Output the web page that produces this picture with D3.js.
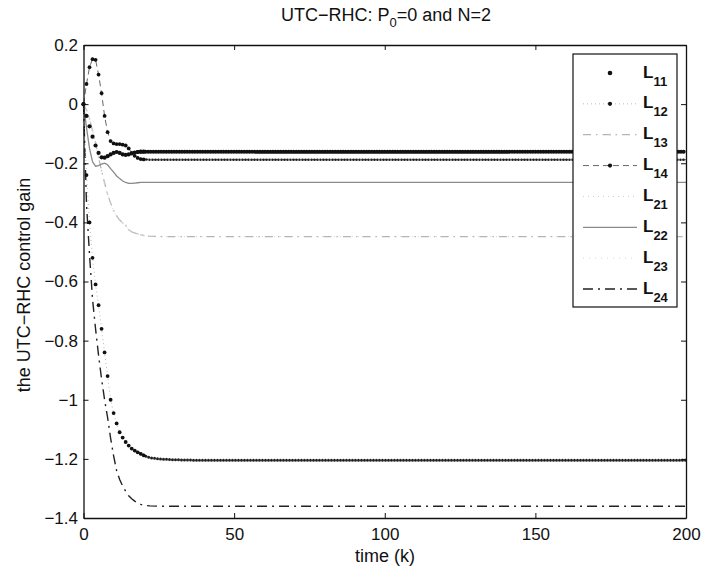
<!DOCTYPE html>
<html><head><meta charset="utf-8">
<script src="https://cdn.jsdelivr.net/npm/d3@7"></script>
<style>body{margin:0;background:#fff}svg{display:block;font-family:"Liberation Sans",Arial,Helvetica,sans-serif}</style>
</head><body><svg id="c" width="704" height="571"></svg>
<script>
// ---- data ----
const timeK = [0,1,2,3,4,5,6,7,8,9,10,11,12,13,14,15,16,17,18,19,20,22,25,30,40,60,100,150,200];
const L11 = [0,-0.04,-0.075,-0.11,-0.14,-0.165,-0.18,-0.181,-0.176,-0.17,-0.165,-0.162,-0.165,-0.17,-0.172,-0.17,-0.167,-0.164,-0.162,-0.161,-0.161,-0.161,-0.161,-0.161,-0.161,-0.161,-0.161,-0.161,-0.161];
const L12 = [0,-0.24,-0.40,-0.52,-0.61,-0.68,-0.76,-0.84,-0.92,-1.0,-1.045,-1.08,-1.11,-1.128,-1.143,-1.155,-1.165,-1.172,-1.178,-1.183,-1.188,-1.196,-1.2,-1.203,-1.205,-1.205,-1.205,-1.205,-1.205];
const L13 = [0,-0.02,-0.05,-0.09,-0.13,-0.18,-0.225,-0.267,-0.305,-0.335,-0.36,-0.378,-0.392,-0.402,-0.41,-0.425,-0.432,-0.436,-0.439,-0.442,-0.444,-0.447,-0.448,-0.448,-0.448,-0.448,-0.448,-0.448,-0.448];
const L14 = [0,0.068,0.125,0.152,0.15,0.1,0.037,-0.04,-0.095,-0.125,-0.133,-0.135,-0.135,-0.137,-0.14,-0.15,-0.165,-0.175,-0.182,-0.186,-0.187,-0.188,-0.188,-0.188,-0.188,-0.188,-0.188,-0.188,-0.188];
const L21 = [0,-0.08,-0.15,-0.195,-0.21,-0.208,-0.203,-0.2,-0.205,-0.218,-0.23,-0.243,-0.252,-0.26,-0.265,-0.268,-0.268,-0.267,-0.266,-0.265,-0.265,-0.265,-0.265,-0.265,-0.265,-0.265,-0.265,-0.265,-0.265];
const L22 = [0,-0.08,-0.15,-0.195,-0.21,-0.208,-0.203,-0.2,-0.205,-0.218,-0.23,-0.243,-0.252,-0.26,-0.265,-0.268,-0.268,-0.267,-0.266,-0.265,-0.265,-0.265,-0.265,-0.265,-0.265,-0.265,-0.265,-0.265,-0.265];
const L23 = [0,-0.02,-0.05,-0.09,-0.13,-0.18,-0.225,-0.267,-0.305,-0.335,-0.36,-0.378,-0.392,-0.402,-0.41,-0.425,-0.432,-0.436,-0.439,-0.442,-0.444,-0.447,-0.448,-0.448,-0.448,-0.448,-0.448,-0.448,-0.448];
const L24 = [0,-0.34,-0.51,-0.66,-0.76,-0.85,-0.93,-1.0,-1.06,-1.13,-1.19,-1.24,-1.27,-1.292,-1.31,-1.325,-1.335,-1.343,-1.35,-1.354,-1.357,-1.359,-1.36,-1.36,-1.36,-1.36,-1.36,-1.36,-1.36];
const seriesNames = ["11","12","13","14","21","22","23","24"];
const seriesValues = [L11,L12,L13,L14,L21,L22,L23,L24];
const xTicks = [0,50,100,150,200];
const yTicks = [0.2,0,-0.2,-0.4,-0.6,-0.8,-1,-1.2,-1.4];
const titleMain = "UTC\u2212RHC: P", titleSub = "0", titleRest = "=0 and N=2";
const xLabel = "time (k)";
const yLabel = "the UTC\u2212RHC control gain";

// ---- styles per series ----
const styles = {
  "11": {line:null, mark:{r:2.1,fill:"#111"}, tail:{w:4,dash:"0 2.6",color:"#111"}},
  "12": {line:{w:1,dash:"1 3",color:"#bbb"}, mark:{r:1.9,fill:"#111"}, tail:{w:3,dash:"0 3",color:"#222"}},
  "13": {line:{w:1.2,dash:"8 5 1.5 5",color:"#b5b5b5"}, mark:{r:0.9,fill:"#ccc"}, tail:null},
  "14": {line:{w:0.9,dash:"6 4",color:"#555"}, mark:{r:1.9,fill:"#111"}, tail:{w:2.6,dash:"0 3",color:"#222"}},
  "21": {line:{w:1,dash:"1 4",color:"#ccc"}, mark:null, tail:null},
  "22": {line:{w:1.3,dash:null,color:"#8a8a8a"}, mark:null, tail:null},
  "23": {line:{w:1,dash:"1 5",color:"#d5d5d5"}, mark:null, tail:null},
  "24": {line:{w:1.4,dash:"10 5 2 5",color:"#222"}, mark:null, tail:null}
};

const FONT = "'Liberation Sans',Arial,sans-serif";
const svg = d3.select("#c");
const W = 704, H = 571;
const x = d3.scaleLinear().domain([0,200]).range([83.5,686]);
const y = d3.scaleLinear().domain([-1.4,0.2]).range([518,45]);

svg.append("rect").attr("width",W).attr("height",H).attr("fill","#fff");

const plot = svg.append("g");
const line = d3.line().x(d=>x(d.t)).y(d=>y(d.v));

const order = ["21","23","13","22","24","12","14","11"];
order.forEach(name=>{
  const i = seriesNames.indexOf(name);
  const data = timeK.map((t,j)=>({t, v:seriesValues[i][j]}));
  const s = styles[name];
  if (s.line) {
    plot.append("path").datum(data).attr("d",line).attr("fill","none")
      .attr("stroke",s.line.color).attr("stroke-width",s.line.w)
      .attr("stroke-dasharray",s.line.dash).attr("stroke-linecap","butt");
  }
  if (s.tail) {
    plot.append("path").datum(data.filter(d=>d.t>=18)).attr("d",line).attr("fill","none")
      .attr("stroke",s.tail.color).attr("stroke-width",s.tail.w)
      .attr("stroke-dasharray",s.tail.dash).attr("stroke-linecap","round");
  }
  if (s.mark) {
    plot.selectAll(null).data(data.filter(d=>d.t<=20)).enter().append("circle")
      .attr("cx",d=>x(d.t)).attr("cy",d=>y(d.v)).attr("r",s.mark.r).attr("fill",s.mark.fill);
  }
});

// ---- axes (inward ticks on all four sides) ----
const fmt = d => (d<0 ? "\u2212" : "") + String(Math.abs(d));
const axB = svg.append("g").attr("transform","translate(0,518)")
  .call(d3.axisBottom(x).tickValues(xTicks).tickSize(-5).tickSizeOuter(0).tickPadding(10).tickFormat(fmt));
const axT = svg.append("g").attr("transform","translate(0,45)")
  .call(d3.axisTop(x).tickValues(xTicks).tickSize(-5).tickSizeOuter(0).tickFormat(""));
const axL = svg.append("g").attr("transform","translate(83.5,0)")
  .call(d3.axisLeft(y).tickValues(yTicks).tickSize(-5).tickSizeOuter(0).tickPadding(5.5).tickFormat(fmt));
const axR = svg.append("g").attr("transform","translate(686,0)")
  .call(d3.axisRight(y).tickValues(yTicks).tickSize(-5).tickSizeOuter(0).tickFormat(""));
[axB,axT,axL,axR].forEach(a=>{
  a.select(".domain").attr("stroke","#111").attr("stroke-width",1.3);
  a.selectAll(".tick line").attr("stroke","#111");
  a.selectAll("text").attr("fill","#111").style("font-size","17px").style("font-family",FONT);
});

// ---- legend ----
const lg = svg.append("g");
lg.append("rect").attr("x",573).attr("y",54).attr("width",104).attr("height",253)
  .attr("fill","#fff").attr("stroke","#111").attr("stroke-width",1.2);
const legY = d3.scalePoint().domain(seriesNames).range([73,289]);
seriesNames.forEach(name=>{
  const s = styles[name], yy = legY(name);
  if (s.line) {
    lg.append("line").attr("x1",583).attr("x2",637).attr("y1",yy).attr("y2",yy)
      .attr("stroke",s.line.color).attr("stroke-width",s.line.w)
      .attr("stroke-dasharray",s.line.dash);
  }
  if (s.mark) {
    lg.append("circle").attr("cx",610).attr("cy",yy).attr("r",s.mark.r+0.2).attr("fill",s.mark.fill);
  }
  const t = lg.append("text").attr("x",643).attr("y",yy+4.5).attr("fill","#111")
    .style("font-size","17px").style("font-weight","bold");
  t.append("tspan").text("L");
  t.append("tspan").attr("dy",8).style("font-size","13px").text(name);
});

// ---- titles ----
const tt = svg.append("text").attr("x",386).attr("y",21).attr("text-anchor","middle")
  .attr("fill","#111").style("font-size","18px");
tt.append("tspan").text(titleMain);
tt.append("tspan").attr("dy",6).style("font-size","13px").text(titleSub);
tt.append("tspan").attr("dy",-6).text(titleRest);

svg.append("text").attr("x",385).attr("y",562).attr("text-anchor","middle")
  .attr("fill","#111").style("font-size","18px").text(xLabel);
svg.append("text").attr("transform","translate(30,285) rotate(-90)").attr("text-anchor","middle")
  .attr("fill","#111").style("font-size","18px").text(yLabel);
</script></body></html>
